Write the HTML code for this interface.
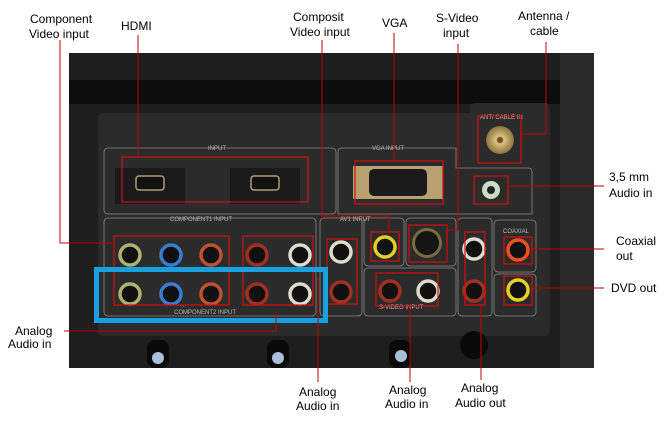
<!DOCTYPE html>
<html><head><meta charset="utf-8"><style>
html,body{margin:0;padding:0;background:#fff;width:670px;height:424px;overflow:hidden}
svg{display:block}
text{font-family:"Liberation Sans",sans-serif;font-size:12px;fill:#000}
.s{font-size:6px;fill:#bbb}
</style></head><body>
<svg width="670" height="424" viewBox="0 0 670 424">
<defs>
<radialGradient id="gold"><stop offset="0" stop-color="#8a6a40"/><stop offset=".3" stop-color="#d8c080"/><stop offset="1" stop-color="#8a7440"/></radialGradient>
</defs>
<!-- photo -->
<rect x="69" y="53" width="525" height="315" fill="#1e1e1e"/>
<rect x="69" y="80" width="525" height="24" fill="#0c0c0c"/>
<rect x="560" y="53" width="34" height="315" fill="#2a2a2a"/>
<path d="M98 118 Q98 113 104 113 L470 113 L470 106 Q470 103 476 103 L545 103 Q550 103 550 108 L550 330 Q550 336 544 336 L104 336 Q98 336 98 330 Z" fill="#2b2b2b"/>
<!-- group outlines -->
<g fill="none" stroke="#888" stroke-width="0.8">
<rect x="104" y="148" width="232" height="66" rx="4"/>
<path d="M338 214 L338 152 Q338 148 342 148 L456 148 L456 168 L528 168 Q532 168 532 172 L532 214 Z"/>
<rect x="104" y="218" width="212" height="98" rx="4"/>
<rect x="320" y="218" width="42" height="98" rx="4"/>
<rect x="364" y="218" width="40" height="48" rx="4"/>
<rect x="406" y="218" width="50" height="48" rx="4"/>
<rect x="364" y="268" width="92" height="48" rx="4"/>
<rect x="458" y="218" width="34" height="98" rx="4"/>
<rect x="494" y="220" width="42" height="52" rx="4"/>
<rect x="494" y="274" width="42" height="42" rx="4"/>
</g>
<text class="s" x="208" y="150">INPUT</text>
<text class="s" x="372" y="150">VGA INPUT</text>
<text class="s" x="170" y="221">COMPONENT1 INPUT</text>
<text class="s" x="174" y="314">COMPONENT2 INPUT</text>
<text class="s" x="340" y="221">AV1 INPUT</text>
<text class="s" x="480" y="119">ANT/ CABLE IN</text>
<text class="s" x="503" y="233">COAXIAL</text>
<text class="s" x="379" y="309">S-VIDEO INPUT</text>
<!-- HDMI -->
<rect x="115" y="168" width="70" height="36" fill="#1a1a1a"/>
<rect x="230" y="168" width="70" height="36" fill="#1a1a1a"/>
<rect x="136" y="176" width="28" height="14" rx="3" fill="#111" stroke="#b0a070" stroke-width="1.5"/>
<rect x="251" y="176" width="28" height="14" rx="3" fill="#111" stroke="#b0a070" stroke-width="1.5"/>
<!-- VGA -->
<rect x="353" y="166" width="90" height="33" fill="#b8a070"/>
<rect x="369" y="169" width="58" height="27" rx="5" fill="#1a1a1a"/>
<!-- antenna -->
<circle cx="500" cy="140" r="14" fill="url(#gold)"/>
<circle cx="500" cy="140" r="3" fill="#7a4a20"/>
<!-- 3.5 -->
<circle cx="491" cy="190" r="9" fill="#c8dcc8"/><circle cx="491" cy="190" r="4" fill="#222"/>
<!-- RCA -->
<g stroke-width="3.5">
<g fill="#111">
<circle cx="130" cy="255" r="10" stroke="#b0b070"/><circle cx="171" cy="255" r="10" stroke="#3a7cd0"/><circle cx="211" cy="255" r="10" stroke="#c05030"/>
<circle cx="257" cy="255" r="10" stroke="#a03020"/><circle cx="300" cy="255" r="10" stroke="#e0dccc"/>
<circle cx="130" cy="294" r="10" stroke="#b0b070"/><circle cx="171" cy="294" r="10" stroke="#3a7cd0"/><circle cx="211" cy="294" r="10" stroke="#c05030"/>
<circle cx="257" cy="294" r="10" stroke="#a03020"/><circle cx="300" cy="294" r="10" stroke="#e0dccc"/>
<circle cx="341" cy="252" r="10" stroke="#e0dccc"/><circle cx="341" cy="292" r="10" stroke="#a03020"/>
<circle cx="385" cy="247" r="10" stroke="#e0d020"/>
<circle cx="390" cy="291" r="10" stroke="#a03020"/><circle cx="428" cy="291" r="10" stroke="#e0dccc"/>
<circle cx="474" cy="249" r="10" stroke="#e0dccc"/><circle cx="474" cy="291" r="10" stroke="#a03020"/>
<circle cx="518" cy="250" r="10" stroke="#ee5020"/><circle cx="518" cy="290" r="10" stroke="#e8d020"/>
</g>
</g>
<circle cx="427" cy="243" r="15" fill="#7a6a40"/><circle cx="427" cy="243" r="12" fill="#151515"/>
<!-- screws -->
<g fill="#0a0a0a"><rect x="147" y="340" width="22" height="28" rx="8"/><rect x="267" y="340" width="22" height="28" rx="8"/><rect x="389" y="340" width="22" height="28" rx="8"/><circle cx="474" cy="345" r="14"/></g>
<g fill="#a8c0d8"><circle cx="158" cy="358" r="6"/><circle cx="278" cy="358" r="6"/><circle cx="401" cy="356" r="6"/></g>
<!-- red boxes -->
<g fill="none" stroke="#d01010" stroke-width="1.2">
<rect x="122" y="157" width="186" height="45"/>
<rect x="355" y="161" width="88" height="43"/>
<rect x="478" y="116" width="43" height="47"/>
<rect x="474" y="176" width="34" height="28"/>
<rect x="114" y="236" width="115" height="69"/>
<rect x="243" y="236" width="70" height="69"/>
<rect x="327" y="239" width="30" height="65"/>
<rect x="371" y="232" width="28" height="29"/>
<rect x="409" y="225" width="38" height="37"/>
<rect x="376" y="273" width="62" height="33"/>
<rect x="465" y="232" width="20" height="73"/>
<rect x="504" y="237" width="28" height="27"/>
<rect x="504" y="276" width="28" height="29"/>
</g>
<rect x="96.5" y="269.5" width="229" height="51" fill="none" stroke="#18a0e0" stroke-width="5"/>
<!-- leader lines -->
<g fill="none" stroke="#c00000" stroke-width="1">
<path d="M60 40 V243 H114"/>
<path d="M138 35 V157"/>
<path d="M322 40 V216 H389 V232"/>
<path d="M394 33 V161"/>
<path d="M458 44 V230 H447"/>
<path d="M546 42 V134 H521"/>
<path d="M508 186 H604"/>
<path d="M532 249 H604"/>
<path d="M532 288 H604"/>
<path d="M64 331 H276 V312"/>
<path d="M318 277 V382"/>
<path d="M410 306 V382"/>
<path d="M481 305 V380"/>
</g>
<!-- labels -->
<text x="30" y="23">Component</text><text x="29" y="38">Video input</text>
<text x="121" y="30">HDMI</text>
<text x="293" y="21">Composit</text><text x="290" y="36">Video input</text>
<text x="382" y="27">VGA</text>
<text x="436" y="22">S-Video</text><text x="443" y="37">input</text>
<text x="518" y="20">Antenna /</text><text x="530" y="35">cable</text>
<text x="609" y="181">3,5 mm</text><text x="609" y="197">Audio in</text>
<text x="616" y="245">Coaxial</text><text x="616" y="260">out</text>
<text x="611" y="292">DVD out</text>
<text x="15" y="335">Analog</text><text x="8" y="348">Audio in</text>
<text x="299" y="396">Analog</text><text x="296" y="410">Audio in</text>
<text x="389" y="394">Analog</text><text x="385" y="408">Audio in</text>
<text x="461" y="392">Analog</text><text x="455" y="407">Audio out</text>
</svg>
</body></html>
